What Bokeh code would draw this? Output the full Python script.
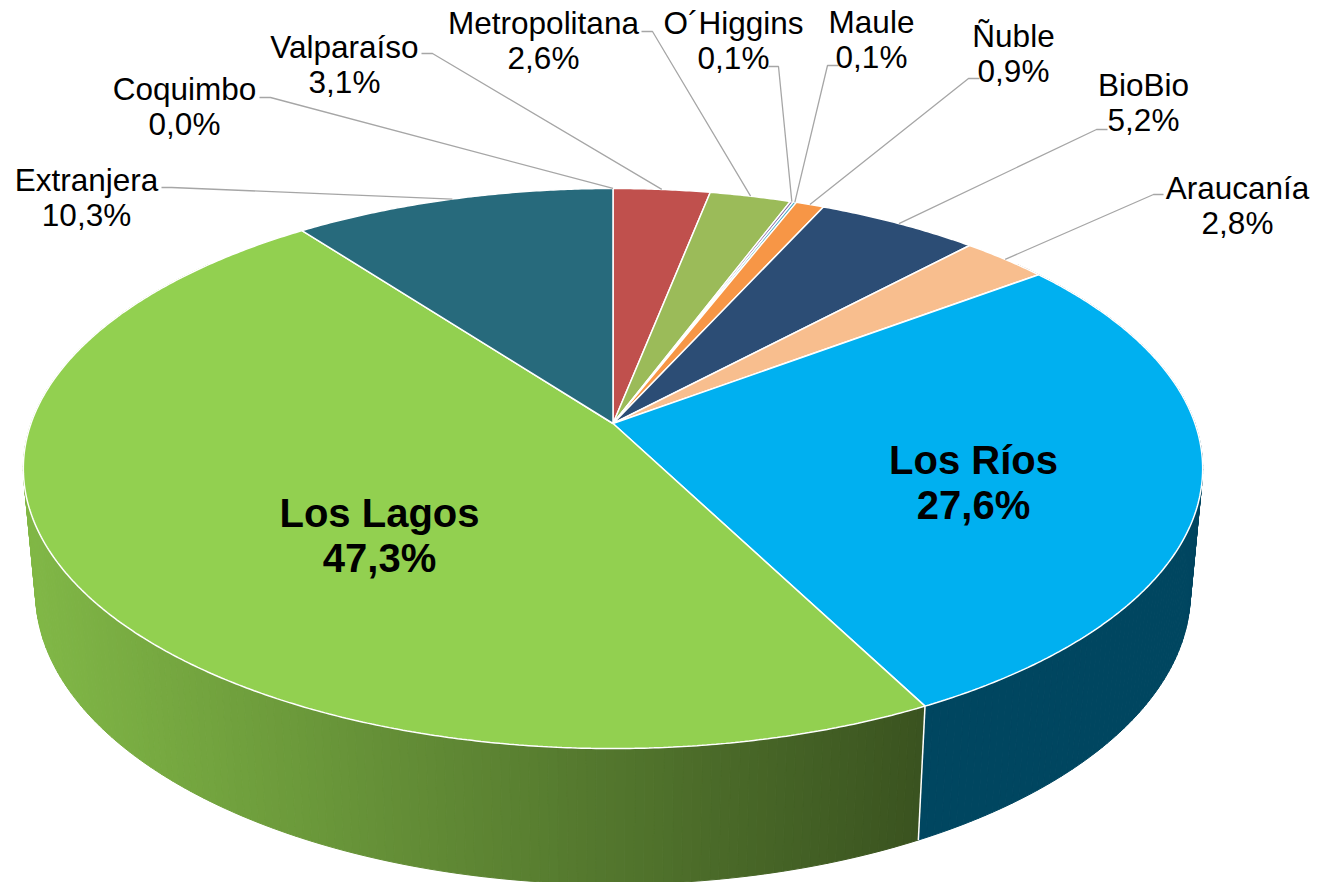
import numpy as np
from bokeh.plotting import figure
from bokeh.models import Range1d, ColumnDataSource
from bokeh.core.properties import value
from bokeh.embed import file_html
from bokeh.resources import INLINE

# ---------------- data ----------------
regions = ["Coquimbo", "Valparaíso", "Metropolitana", "O´Higgins", "Maule", "Ñuble",
           "BioBio", "Araucanía", "Los Ríos", "Los Lagos", "Extranjera"]
shares = [0.0, 3.1, 2.6, 0.1, 0.1, 0.9, 5.2, 2.8, 27.6, 47.3, 10.3]
colors = ["#4F81BD", "#C0504D", "#9BBB59", "#8064A2", "#4BACC6", "#F79646",
          "#2C4D75", "#F8BE8E", "#00B0F0", "#92D050", "#276A7C"]

# ---------------- layout (style / positions) ----------------
W, H = 1321, 882
CX, CY = 612.5, 423.0            # apex of the top face
A_T, B_T, K_T = 582.0, 272.8, 0.1607   # top face perspective ellipse
A_B, B_B, K_B, CY_B = 570.0, 284.5, 0.16, 545.0  # bottom rim ellipse
GRAD_X0, GRAD_X1 = 35.0, 925.0
F_LIGHT, F_DARK = 0.88, 0.40

# outer labels: name -> (center x, baseline of first line, leader start, leader elbow)
outer_layout = {
    "Coquimbo":      (184, 88,  (259, 97),  (270, 97)),
    "Valparaíso":    (344, 46,  (421, 53),  (432, 53)),
    "Metropolitana": (543, 22,  (641, 31),  (652, 31)),
    "O´Higgins":     (733, 22,  (768, 66),  (778, 66)),
    "Maule":         (871, 21,  (838, 65),  (827, 65)),
    "Ñuble":         (1013, 35, (979, 78),  (968, 78)),
    "BioBio":        (1143, 84, (1107, 129), (1096, 129)),
    "Araucanía":     (1237, 187, (1163, 194), (1153, 194)),
    "Extranjera":    (86, 179,  (161, 187), (171, 187)),
}
inner_layout = {
    "Los Ríos":  (973, 459),
    "Los Lagos": (379, 512),
}
LINE_GAP = 35
INNER_GAP = 45


def pct(v):
    return f"{v:.1f}%".replace(".", ",")


def top_pt(theta):
    t = np.radians(theta)
    u, v = np.sin(t), -np.cos(t)
    d = 1 - K_T * v
    return CX + A_T * u / d, CY + B_T * v / d


def bot_pt(theta):
    t = np.radians(theta)
    u, v = np.sin(t), -np.cos(t)
    d = 1 - K_B * v
    return CX + A_B * u / d, CY_B + B_B * v / d


def shade(hexc, f):
    hexc = hexc.lstrip("#")
    r, g, b = (int(hexc[i:i + 2], 16) for i in (0, 2, 4))
    return "#%02x%02x%02x" % (int(r * f), int(g * f), int(b * f))


cum = np.cumsum(shares)
starts = (cum - np.array(shares)) / 100.0 * 360.0
ends = cum / 100.0 * 360.0
mids = (starts + ends) / 2.0

p = figure(width=W, height=H, x_range=Range1d(0, W), y_range=Range1d(H, 0),
           output_backend="svg", toolbar_location=None, min_border=0)
p.axis.visible = False
p.xgrid.visible = False
p.ygrid.visible = False
p.outline_line_color = None
p.background_fill_color = "white"
p.border_fill_color = "white"

# ---------------- side wall ----------------
quads = []
for i, (s, e) in enumerate(zip(starts, ends)):
    a0, a1 = max(s, 50.0), min(e, 310.0)
    if a1 <= a0:
        continue
    n = int((a1 - a0) / 0.8) + 2
    angs = np.linspace(a0, a1, n)
    for j in range(n - 1):
        ta, tb = angs[j], angs[j + 1]
        xa, ya = top_pt(ta)
        xb, yb = top_pt(tb)
        xc, yc = bot_pt(tb)
        xd, yd = bot_pt(ta)
        xm = (xa + xb) / 2
        tt = np.clip((xm - GRAD_X0) / (GRAD_X1 - GRAD_X0), 0, 1)
        f = F_LIGHT - (F_LIGHT - F_DARK) * tt
        vmid = -np.cos(np.radians((ta + tb) / 2))
        quads.append((vmid, [xa, xb, xc, xd], [ya, yb, yc, yd], shade(colors[i], f)))
quads.sort(key=lambda q: q[0])
side_src = ColumnDataSource(dict(xs=[q[1] for q in quads], ys=[q[2] for q in quads],
                                 c=[q[3] for q in quads]))
p.patches("xs", "ys", source=side_src, fill_color="c", line_color="c", line_width=1)

# seams on the visible front wall
seam_xs, seam_ys = [], []
for b in ends:
    if 100 < b < 260:
        x0, y0 = top_pt(b)
        x1, y1 = bot_pt(b)
        seam_xs.append([x0, x1])
        seam_ys.append([y0, y1])
p.multi_line(seam_xs, seam_ys, line_color="white", line_width=1.5)

# ---------------- top face ----------------
txs, tys, tcs = [], [], []
for i, (s, e) in enumerate(zip(starts, ends)):
    if e - s <= 0:
        continue
    n = max(3, int((e - s) / 0.4) + 2)
    angs = np.linspace(s, e, n)
    pts = [top_pt(a) for a in angs]
    txs.append([CX] + [q[0] for q in pts])
    tys.append([CY] + [q[1] for q in pts])
    tcs.append(colors[i])
top_src = ColumnDataSource(dict(xs=txs, ys=tys, c=tcs))
p.patches("xs", "ys", source=top_src, fill_color="c", line_color="white", line_width=1.5)

# ---------------- leader lines & outer labels ----------------
lx, ly = [], []
tx, ty, tt = [], [], []
for i, name in enumerate(regions):
    if name in outer_layout:
        cx, by, st, el = outer_layout[name]
        ex, ey = top_pt(mids[i])
        lx.append([st[0], el[0], ex])
        ly.append([st[1], el[1], ey])
        tx += [cx, cx]
        ty += [by, by + LINE_GAP]
        tt += [name, pct(shares[i])]
p.multi_line(lx, ly, line_color="#A6A6A6", line_width=1.3)
p.text(x=tx, y=ty, text=tt, text_align="center", text_baseline="alphabetic",
       text_font=value("Liberation Sans"), text_font_size="31.5px", text_color="#000000")

ix, iy, it = [], [], []
for i, name in enumerate(regions):
    if name in inner_layout:
        cx, by = inner_layout[name]
        ix += [cx, cx]
        iy += [by, by + INNER_GAP]
        it += [name, pct(shares[i])]
p.text(x=ix, y=iy, text=it, text_align="center", text_baseline="alphabetic",
       text_font=value("Liberation Sans"), text_font_size="40px", text_font_style="bold",
       text_color="#000000")

open("out.html", "w").write(file_html(p, INLINE))
